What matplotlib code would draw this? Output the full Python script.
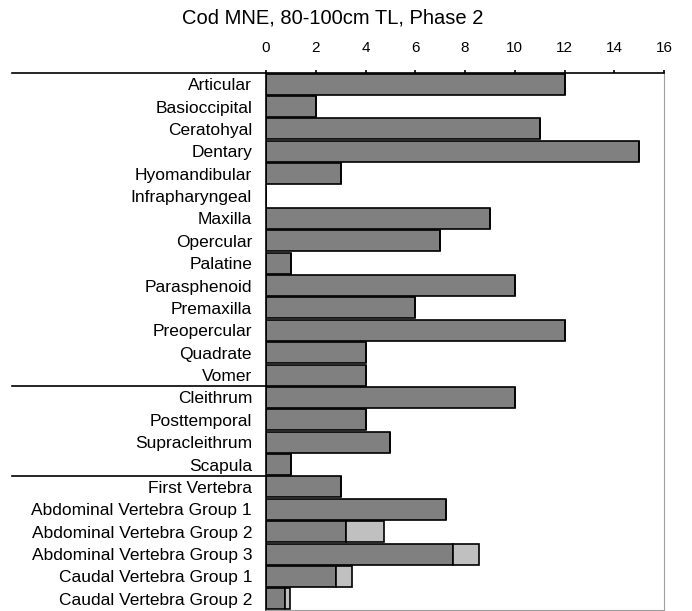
import matplotlib
matplotlib.use("Agg")
import matplotlib.pyplot as plt
import numpy as np
from matplotlib.transforms import blended_transform_factory

categories = ["Articular", "Basioccipital", "Ceratohyal", "Dentary", "Hyomandibular",
              "Infrapharyngeal", "Maxilla", "Opercular", "Palatine", "Parasphenoid",
              "Premaxilla", "Preopercular", "Quadrate", "Vomer", "Cleithrum",
              "Posttemporal", "Supracleithrum", "Scapula", "First Vertebra",
              "Abdominal Vertebra Group 1", "Abdominal Vertebra Group 2",
              "Abdominal Vertebra Group 3", "Caudal Vertebra Group 1",
              "Caudal Vertebra Group 2"]
dark_values = [12, 2, 11, 15, 3, 0, 9, 7, 1, 10, 6, 12, 4, 4, 10, 4, 5, 1, 3,
               7.25, 3.2, 7.5, 2.8, 0.75]
light_values = [0, 0, 0, 0, 0, 0, 0, 0, 0, 0, 0, 0, 0, 0, 0, 0, 0, 0, 0,
                0, 1.55, 1.05, 0.65, 0.2]
group_breaks = [13.5, 17.5]
xticks = [0, 2, 4, 6, 8, 10, 12, 14, 16]

plt.rcParams['font.family'] = ['Liberation Sans', 'DejaVu Sans']

fig = plt.figure(figsize=(6.92, 6.11), dpi=100)
ax = fig.add_axes([266/692, 1/611, (664-266)/692, (610-73)/611])

y = np.arange(len(categories))
h = 0.94
ax.barh(y, dark_values, height=h, color="#808080", edgecolor="black", linewidth=1.2)
ax.barh(y, light_values, left=dark_values, height=h, color="#c0c0c0", edgecolor="black", linewidth=1.2)

ax.set_ylim(len(categories) - 0.5, -0.5)
ax.set_xlim(0, 16)
ax.set_xticks(xticks)
ax.xaxis.tick_top()
ax.tick_params(axis='x', direction='out', length=2.2, width=1.2, labelsize=11, pad=11)
ax.set_yticks(y)
ax.set_yticklabels(categories, fontsize=12.5)
ax.tick_params(axis='y', length=0, pad=10)

ax.spines['top'].set_color('black')
ax.spines['top'].set_linewidth(1.2)
ax.spines['left'].set_color('black')
ax.spines['left'].set_linewidth(1.2)
ax.spines['right'].set_color('#a0a0a0')
ax.spines['bottom'].set_color('#a0a0a0')

trans = blended_transform_factory(ax.transAxes, ax.transData)
xleft = (12 - 266) / (664 - 266)
for yb in [-0.5] + group_breaks:
    ax.plot([xleft, 0], [yb, yb], color='black', linewidth=1.2, transform=trans, clip_on=False)

fig.text(332.5 / 692, 1 - 18/611, "Cod MNE, 80-100cm TL, Phase 2",
         ha='center', va='center', fontsize=14.5)

fig.savefig("out.png", dpi=100)
